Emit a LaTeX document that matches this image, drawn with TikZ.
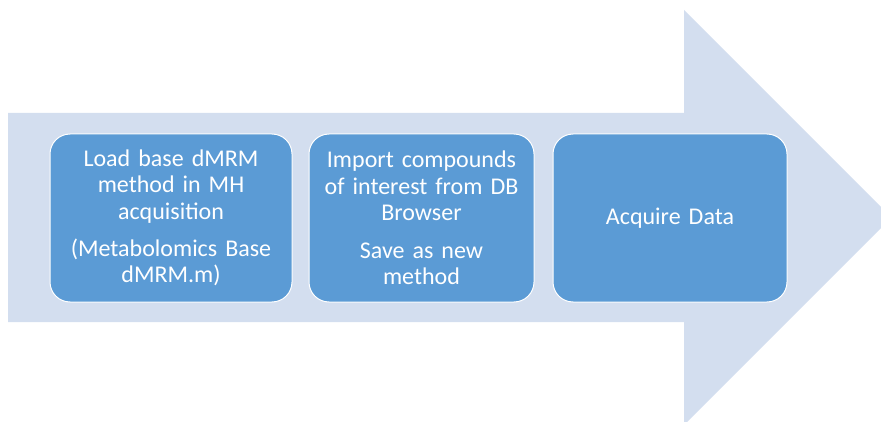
\documentclass[tikz,border=0pt]{standalone}
\usepackage{fontspec}
\setmainfont{Carlito}
\definecolor{arrowfill}{HTML}{D3DEEF}
\definecolor{boxfill}{HTML}{5B9BD5}
\begin{document}
\begin{tikzpicture}[x=1pt,y=-1pt,
  stepbox/.style={draw=white, line width=1pt, fill=boxfill, rounded corners=20pt,
    text=white, align=center, font=\fontsize{24}{26.4}\selectfont,
    inner sep=0pt, minimum height=168pt}]
\useasboundingbox (0,0) rectangle (881,422);
\clip (0,0) rectangle (881,422);
\fill[arrowfill] (8,113) -- (684,113) -- (684,10) -- (891.5,217.5) -- (684,425) -- (684,322) -- (8,322) -- cycle;
\node[stepbox, text width=242pt] (load) at (171,218)
  {Load base dMRM\\method in MH\\acquisition\\[11pt](Metabolomics Base\\dMRM.m)};
\node[stepbox, text width=225pt] (import) at (421.5,218)
  {Import compounds\\of interest from DB\\Browser\\[11pt]Save as new\\method};
\node[stepbox, text width=234pt] (acquire) at (670,218) {Acquire Data};
\end{tikzpicture}
\end{document}
